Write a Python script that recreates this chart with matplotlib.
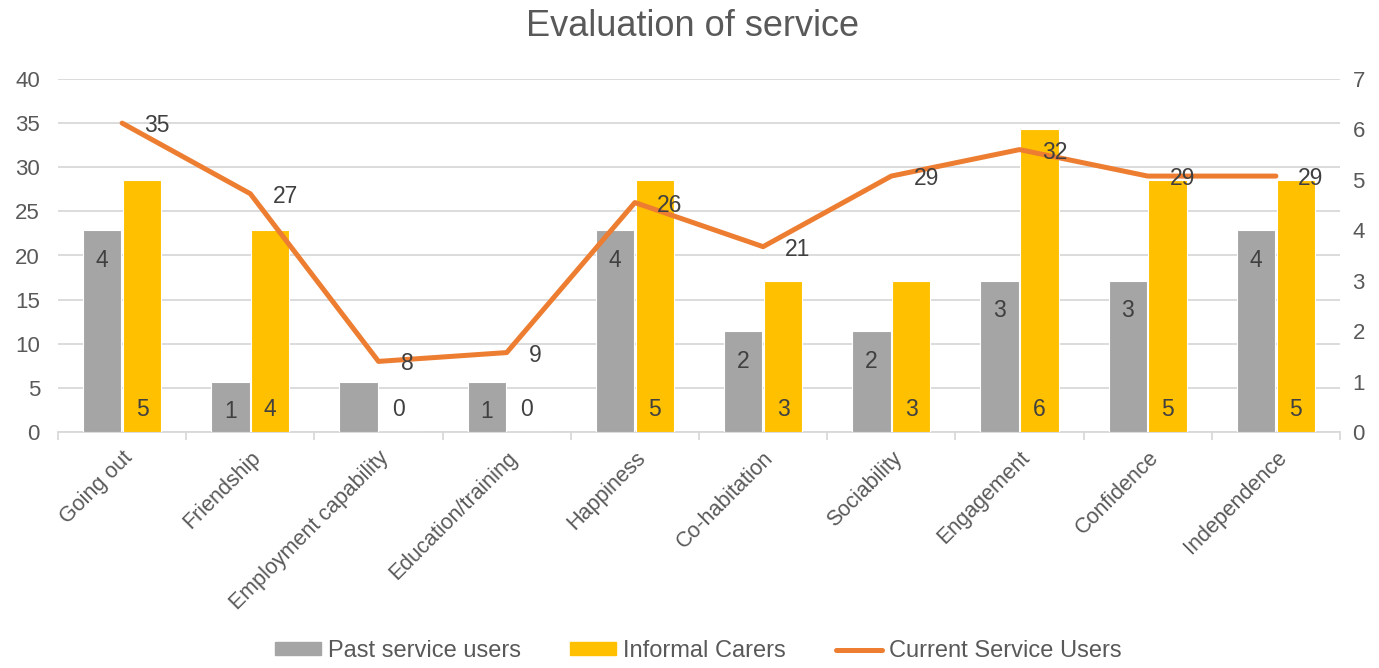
import numpy as np
import matplotlib
matplotlib.use("Agg")
import matplotlib.pyplot as plt
from matplotlib.patches import Patch
from matplotlib.lines import Line2D

plt.rcParams['font.family'] = ['Liberation Sans', 'DejaVu Sans']

# Data
categories = ["Going out", "Friendship", "Employment capability", "Education/training",
              "Happiness", "Co-habitation", "Sociability", "Engagement",
              "Confidence", "Independence"]
past_users = [4, 1, 1, 1, 4, 2, 2, 3, 3, 4]
informal_carers = [5, 4, 0, 0, 5, 3, 3, 6, 5, 5]
current_users = [35, 27, 8, 9, 26, 21, 29, 32, 29, 29]
past_hidden_labels = ["Employment capability"]

left_ticks = list(range(0, 41, 5))
right_ticks = list(range(0, 8))

GRAY = "#A5A5A5"
YELLOW = "#FFC000"
ORANGE = "#ED7D31"
TXT = "#595959"
LBL = "#404040"
GRID = "#D9D9D9"

W, H = 1379, 668
fig = plt.figure(figsize=(W / 100, H / 100), dpi=100)
ax = fig.add_axes([58 / W, 1 - 432 / H, (1340 - 58) / W, (432 - 79) / H])

x = np.arange(len(categories))
ax.set_xlim(-0.5, len(categories) - 0.5)
ax.set_ylim(left_ticks[0], left_ticks[-1])
ax.set_yticks(left_ticks)
ax.grid(axis='y', color=GRID, lw=1.3)
ax.set_axisbelow(True)
for s in ("left", "right", "top"):
    ax.spines[s].set_visible(False)
ax.spines["bottom"].set_color(GRID)
ax.spines["bottom"].set_linewidth(1.3)

ax.set_xticks(x)
ax.set_xticklabels(categories, rotation=45, ha='right', va='top',
                   rotation_mode='anchor', fontsize=15.5, color=TXT)
ax.set_xticks(np.arange(-0.5, len(categories), 1), minor=True)
ax.tick_params(axis='x', which='major', length=0, pad=11)
ax.tick_params(axis='x', which='minor', length=6, width=1.3, color=GRID)
ax.tick_params(axis='y', length=0, pad=13, labelsize=16, labelcolor=TXT)

# Secondary axis for the bars
ax2 = ax.twinx()
ax2.set_ylim(right_ticks[0], right_ticks[-1])
ax2.set_yticks(right_ticks)
ax2.tick_params(axis='y', length=0, pad=9, labelsize=16, labelcolor=TXT)
for s in ax2.spines.values():
    s.set_visible(False)

bw = 0.30
off = 0.155
ax2.bar(x - off, past_users, width=bw, color=GRAY, edgecolor='white', linewidth=0.8)
ax2.bar(x + off, informal_carers, width=bw, color=YELLOW, edgecolor='white', linewidth=0.8)

for xi, cat, v in zip(x, categories, past_users):
    if cat in past_hidden_labels:
        continue
    ax2.annotate(str(v), xy=(xi - off, v), xytext=(0, -20), textcoords='offset points',
                 ha='center', va='center_baseline', fontsize=16.5, color=LBL)
for xi, v in zip(x, informal_carers):
    ax2.annotate(str(v), xy=(xi + off, 0), xytext=(0, 18), textcoords='offset points',
                 ha='center', va='center_baseline', fontsize=16.5, color=LBL)

# Third axis on the left scale for the line, drawn above the bars
ax3 = ax.twinx()
ax3.set_ylim(left_ticks[0], left_ticks[-1])
ax3.set_yticks([])
for s in ax3.spines.values():
    s.set_visible(False)
ax3.plot(x, current_users, color=ORANGE, lw=3.6, solid_capstyle='round',
         solid_joinstyle='round')
for xi, v in zip(x, current_users):
    ax3.annotate(str(v), xy=(xi, v), xytext=(16, 0), textcoords='offset points',
                 ha='left', va='center_baseline', fontsize=16.5, color=LBL)

fig.text(692 / W, 1 - 36 / H, "Evaluation of service", fontsize=26, color=TXT,
         ha='center', va='baseline')

handles = [Patch(color=GRAY), Patch(color=YELLOW),
           Line2D([], [], color=ORANGE, lw=3.6, solid_capstyle='round')]
labels = ["Past service users", "Informal Carers", "Current Service Users"]
fig.legend(handles, labels, loc='center', bbox_to_anchor=(698 / W, 1 - 651 / H),
           ncol=3, frameon=False, fontsize=17, handlelength=1.95, handleheight=0.45,
           handletextpad=0.3, columnspacing=2.1, labelcolor=TXT)

fig.savefig("out.png", dpi=100)
